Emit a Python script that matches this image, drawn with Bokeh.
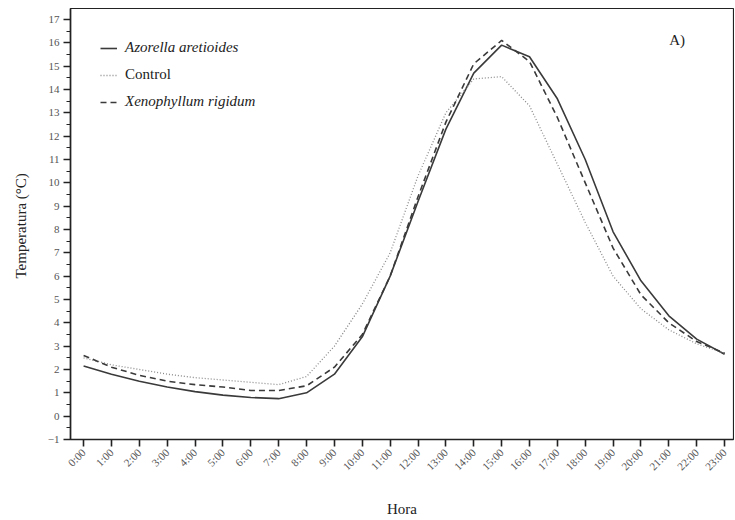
import math
from bokeh.plotting import figure
from bokeh.models import FixedTicker, Range1d, Legend, LegendItem, Label
from bokeh.embed import file_html
from bokeh.resources import INLINE

hours = list(range(24))
hour_labels = ["0:00", "1:00", "2:00", "3:00", "4:00", "5:00", "6:00", "7:00",
               "8:00", "9:00", "10:00", "11:00", "12:00", "13:00", "14:00", "15:00",
               "16:00", "17:00", "18:00", "19:00", "20:00", "21:00", "22:00", "23:00"]
azorella = [2.15, 1.8, 1.5, 1.25, 1.05, 0.9, 0.8, 0.75, 1.0, 1.8, 3.4, 6.0,
            9.2, 12.3, 14.7, 15.9, 15.4, 13.6, 11.0, 7.9, 5.8, 4.3, 3.3, 2.65]
control = [2.5, 2.2, 2.0, 1.8, 1.65, 1.55, 1.45, 1.35, 1.7, 3.0, 4.8, 7.0,
           10.3, 13.0, 14.45, 14.55, 13.3, 10.8, 8.3, 6.0, 4.6, 3.7, 3.1, 2.7]
xenophyllum = [2.6, 2.1, 1.75, 1.5, 1.35, 1.25, 1.1, 1.1, 1.3, 2.1, 3.5, 6.0,
               9.4, 12.6, 15.1, 16.1, 15.2, 12.8, 10.0, 7.2, 5.2, 4.0, 3.2, 2.7]
y_ticks = list(range(-1, 18))
series_names = ["Azorella aretioides", "Control", "Xenophyllum rigidum"]
panel_tag = "A)"

FONT = "Liberation Serif"

p = figure(width=734, height=519, output_backend="svg", toolbar_location=None,
           x_range=Range1d(-0.47, 23.32), y_range=Range1d(-1, 17.47),
           min_border_left=70, min_border_right=1, min_border_top=8,
           min_border_bottom=80, background_fill_color="white",
           border_fill_color="white")
p.grid.visible = False
p.outline_line_color = "#222222"
p.outline_line_width = 1.2

r_az = p.line(hours, azorella, line_color="#3a3a3a", line_width=1.6)
r_ct = p.line(hours, control, line_color="#8a8a8a", line_width=1.3, line_dash="1 2")
r_xe = p.line(hours, xenophyllum, line_color="#3a3a3a", line_width=1.6, line_dash="6 4")

xa = p.xaxis[0]
xa.ticker = FixedTicker(ticks=hours, minor_ticks=[])
xa.major_label_overrides = {h: lab for h, lab in zip(hours, hour_labels)}
xa.major_label_orientation = math.pi / 4
xa.major_tick_out = 7
xa.major_tick_in = 0
xa.minor_tick_out = 0
xa.axis_line_width = 1.6
xa.axis_line_color = "#222222"
xa.major_tick_line_width = 1.6
xa.major_tick_line_color = "#222222"
xa.major_label_text_font = FONT
xa.major_label_text_font_size = "11px"
xa.major_label_text_color = "#555555"
xa.major_label_standoff = 4
xa.axis_label = "Hora"
xa.axis_label_text_font = FONT
xa.axis_label_text_font_style = "normal"
xa.axis_label_text_font_size = "15px"
xa.axis_label_text_color = "#222222"
xa.axis_label_standoff = 21

ya = p.yaxis[0]
ya.ticker = FixedTicker(ticks=y_ticks, minor_ticks=[v + 0.5 for v in y_ticks[:-1]])
ya.major_tick_out = 7
ya.major_tick_in = 0
ya.minor_tick_out = 4
ya.minor_tick_in = 0
ya.axis_line_width = 1.6
ya.axis_line_color = "#222222"
ya.major_tick_line_width = 1.4
ya.minor_tick_line_width = 1.2
ya.major_tick_line_color = "#222222"
ya.minor_tick_line_color = "#222222"
ya.major_label_text_font = FONT
ya.major_label_text_font_size = "11px"
ya.major_label_text_color = "#555555"
ya.major_label_standoff = 4
ya.axis_label = "Temperatura  (°C)"
ya.axis_label_text_font = FONT
ya.axis_label_text_font_style = "normal"
ya.axis_label_text_font_size = "15px"
ya.axis_label_text_color = "#222222"
ya.axis_label_standoff = 16

legend_specs = [(r_az, series_names[0], "italic", 383),
                (r_ct, series_names[1], "normal", 356),
                (r_xe, series_names[2], "italic", 329)]
for rend, name, style, ypos in legend_specs:
    lg = Legend(items=[LegendItem(label=name, renderers=[rend])],
                location=(30, ypos), orientation="vertical",
                padding=0, margin=0, spacing=0,
                glyph_width=17, glyph_height=14, label_height=14,
                label_standoff=8, border_line_color=None,
                background_fill_alpha=0,
                label_text_font=FONT, label_text_font_style=style,
                label_text_font_size="15px", label_text_color="#222222")
    p.add_layout(lg, "center")

p.add_layout(Label(x=21.3, y=16.1, text=panel_tag, text_font=FONT,
                   text_font_size="15px", text_align="center",
                   text_baseline="middle", text_color="#222222"))

open("out.html", "w").write(file_html(p, INLINE))
